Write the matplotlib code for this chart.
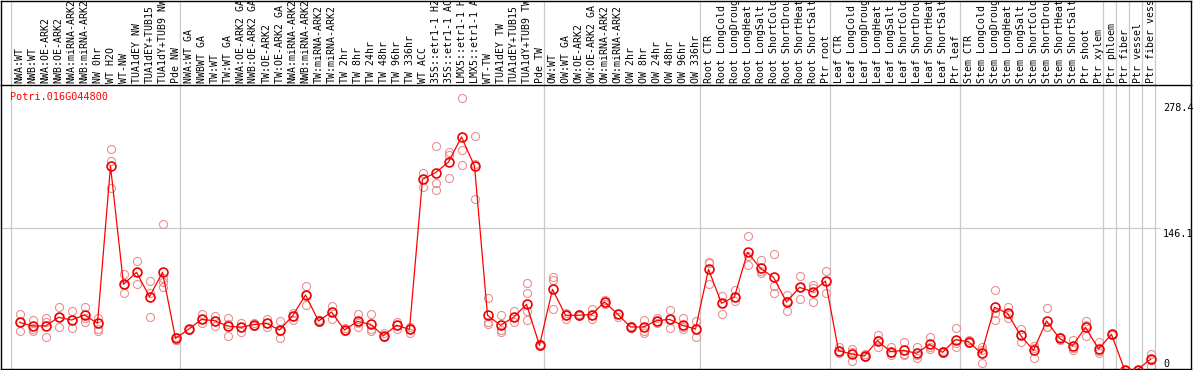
import matplotlib
matplotlib.use("Agg")
import matplotlib.pyplot as plt
import numpy as np

plt.rcParams['font.family'] = ['DejaVu Sans Mono']

gene = "Potri.016G044800"

sample_labels = [
    "NWA:WT", "NWB:WT", "NWA:OE-ARK2", "NWB:OE-ARK2", "NWA:miRNA-ARK2", "NWB:miRNA-ARK2",
    "NW 0hr", "WT H2O", "WT-NW", "TUA1dEY NW", "TUA1dEY+TUB15", "TUA1dY+TUB9 NW", "Pde NW",
    "NWA:WT GA", "NWBWT GA", "TW:WT", "TW:WT GA", "NWA:OE-ARK2 GA", "NWB:OE-ARK2 GA",
    "TW:OE-ARK2", "TW:OE-ARK2 GA", "NWA:miRNA-ARK2", "NWB:miRNA-ARK2", "TW:miRNA-ARK2",
    "TW:miRNA-ARK2", "TW 2hr", "TW 8hr", "TW 24hr", "TW 48hr", "TW 96hr", "TW 336hr",
    "WT ACC", "35S::etr1-1 H2", "35S::etr1-1 AC", "LMX5::etr1-1 H", "LMX5::etr1-1 A",
    "WT-TW", "TUA1dEY TW", "TUA1dEY+TUB15", "TUA1dY+TUB9 TW", "Pde TW",
    "OW:WT", "OW:WT GA", "OW:OE-ARK2", "OW:OE-ARK2 GA", "OW:miRNA-ARK2", "OW:miRNA-ARK2",
    "OW 2hr", "OW 8hr", "OW 24hr", "OW 48hr", "OW 96hr", "OW 336hr",
    "Root CTR", "Root LongCold", "Root LongDroug", "Root LongHeat", "Root LongSalt",
    "Root ShortCold", "Root ShortDrou", "Root ShortHeat", "Root ShortSalt", "Ptr root",
    "Leaf CTR", "Leaf LongCold", "Leaf LongDroug", "Leaf LongHeat", "Leaf LongSalt",
    "Leaf ShortCold", "Leaf ShortDrou", "Leaf ShortHeat", "Leaf ShortSalt", "Ptr leaf",
    "Stem CTR", "Stem LongCold", "Stem LongDroug", "Stem LongHeat", "Stem LongSalt",
    "Stem ShortCold", "Stem ShortDrou", "Stem ShortHeat", "Stem ShortSalt", "Ptr shoot",
    "Ptr xylem", "Ptr phloem", "Ptr fiber", "Ptr vessel", "Ptr fiber vess",
]

group_sizes = [13, 28, 12, 10, 10, 11, 1, 1, 1, 1]

means = [
    50.0, 46.3, 46.3, 55.1, 52.4, 57.5, 49.0, 209.0, 88.7, 100.9, 76.1, 100.9, 33.7,
    42.9, 53.0, 51.7, 46.3, 45.0, 47.7, 49.0, 42.2, 56.5, 77.8, 51.4, 60.5, 42.2, 51.0,
    48.0, 36.4, 47.0, 42.9, 195.5, 202.3, 213.1, 238.6, 209.0, 57.2, 47.0, 55.1, 68.3, 26.6,
    83.6, 57.2, 57.2, 57.9, 70.7, 58.5, 45.3, 45.3, 51.7, 53.0, 47.0, 43.2,
    104.0, 69.4, 76.1, 121.2, 105.0, 95.8, 70.7, 85.6, 81.2, 92.0,
    21.2, 17.8, 15.8, 31.4, 20.2, 21.5, 18.5, 27.6, 19.5, 32.4,
    30.3, 18.5, 65.3, 59.2, 36.8, 21.5, 51.4, 33.7, 26.2, 44.9, 22.9,
    37.8, 2.0, 2.0, 12.4,
]

replicates = [
    [58.5, 50, 41], [52.4, 43, 41], [54, 50, 35], [65.3, 55, 45.6], [61.5, 52, 44],
    [65.3, 54, 50], [54.8, 42.9, 41.6], [226, 214, 186.4], [98.9, 88, 79.5],
    [112.4, 101, 88.7], [92, 80, 55.1], [149.7, 95.4, 91.4, 86.3], [35, 32, 31.6],
    [43.5, 42.9, 42], [58, 53, 49], [56.8, 51.7, 46.6], [54, 48, 36.4], [49.7, 45, 40.5],
    [49, 47.7, 46], [53, 49, 45], [51.7, 41, 33.7], [59.8, 56.5, 52.4], [87, 78, 67.6],
    [52.4, 51.4, 50], [66.6, 60.5, 53], [44, 42.2, 41], [58.5, 49, 45.6], [58.5, 43.2, 40.9],
    [39.5, 36, 34.8], [50.6, 47, 43.6], [45, 43, 39.2], [202.3, 195.5, 188],
    [229.4, 191.4, 184.6], [223.3, 220, 196.5], [278.4, 225.3, 209.8], [239.6, 211.1, 175.5],
    [74.5, 50, 48], [57, 42.2, 39.9], [61.5, 55, 50], [89.7, 79.5, 62, 52.4], [27.5, 26.6, 25.5],
    [96.5, 93, 63.3], [60, 57.2, 53], [59, 57, 56], [63.3, 57.9, 53.7], [72.5, 70.7, 69],
    [58.5, 58, 55], [46, 45.3, 44.5], [52.4, 41, 39], [54, 51.7, 49.5], [62.5, 53, 44.3],
    [54.1, 45, 42.9], [51.4, 43, 34.8],
    [111.7, 110, 89], [77, 70, 59], [82.8, 76, 72], [137.8, 118, 108.3], [113.4, 102, 99.9],
    [119.2, 87.3, 79.5], [77.8, 72, 61.5], [97.2, 86, 73.5], [88, 85, 70.7], [101.9, 92, 80.2],
    [25.2, 21.2, 18.4], [22.9, 20, 11], [17.8, 15.8, 15], [37.1, 32, 24.5], [24.5, 19, 16.7],
    [29.6, 18, 16.7], [24.5, 17, 14], [34.8, 25, 22.9], [20.5, 19.5, 18.5], [43.9, 29, 24.5],
    [32, 30.3, 29], [24.5, 22, 8.3], [82.9, 59.8, 52.4], [65.3, 59, 54.8], [43.2, 37, 29.6],
    [26.2, 24, 13.4], [64.2, 45, 45], [35.6, 33.7, 32], [32.4, 24, 22], [51.7, 47, 36.1],
    [30.3, 21, 18.5], [38.5, 37.8, 37], [2.0, 2.0, 2.0], [2.0, 2.0, 2.0], [17.8, 12, 5.9],
]

y_ticks = [278.4, 146.1, 0]

# ---------------- layout ----------------
W, H = 1194, 370
fig = plt.figure(figsize=(W / 100, H / 100), dpi=100)

px_left, px_right = 1, 1191
header_bottom = 85
plot_bottom = 369
step = 13.0
x0 = 6.5  # pixel = x0 + step * index
xlim = ((px_left - x0) / step, (px_right - x0) / step)

# y mapping: pixel_from_top = 371.5 - 0.983 * v
yscale = 0.983
yzero = 371.5
ylim = ((yzero - plot_bottom) / yscale, (yzero - header_bottom) / yscale)

ax = fig.add_axes([px_left / W, (H - plot_bottom) / H,
                   (px_right - px_left) / W, (plot_bottom - header_bottom) / H])
hax = fig.add_axes([px_left / W, (H - header_bottom) / H,
                    (px_right - px_left) / W, (header_bottom - 0.5) / H])

n = len(means)
xs = np.arange(1, n + 1)

ax.set_xlim(*xlim)
ax.set_ylim(*ylim)
hax.set_xlim(*xlim)
hax.set_ylim(header_bottom, 0)

for a in (ax, hax):
    a.set_xticks([])
    a.set_yticks([])
    for s in a.spines.values():
        s.set_color('black')
        s.set_linewidth(1.0)
ax.spines['top'].set_visible(False)

grid_c = '#c8c8c8'
bounds = np.concatenate([[0], np.cumsum(group_sizes)])
for b in bounds:
    xb = b + 4.5 / step
    ax.axvline(xb, color=grid_c, lw=0.9, zorder=0)
    hax.axvline(xb, color=grid_c, lw=0.9, zorder=0)

x_grid_end = (1160 - x0) / step
ax.hlines(146.1, xlim[0], x_grid_end, color=grid_c, lw=0.9, zorder=0)

# replicate points
for xi, reps in zip(xs, replicates):
    ax.plot([xi] * len(reps), reps, linestyle='none', marker='o', ms=5.8,
            mfc='none', mec='#ea9090', mew=0.8, zorder=2, clip_on=True)

ax.plot(xs, means, color='#ff0000', lw=0.9, zorder=3)
ax.plot(xs, means, linestyle='none', marker='o', ms=6.4, mfc='none',
        mec='#ee0000', mew=1.2, zorder=4)

# header labels
for xi, lab in zip(xs, sample_labels):
    hax.text(xi, header_bottom - 2, lab, rotation=90, ha='center', va='bottom',
             fontsize=7.1, color='black', clip_on=True)

# right tick labels
lab_x = (1163 - x0) / step
offsets = {278.4: -5, 146.1: -1, 0: 12.5}
for v in y_ticks:
    ax.annotate(f"{v:g}", xy=(lab_x, v), xytext=(0, offsets[v]),
                textcoords='offset pixels', ha='left', va='top', fontsize=7.3,
                color='black', annotation_clip=False)

fig.text(10 / W, 1 - 92 / H, gene, color='#ff0000', fontsize=7.3,
         ha='left', va='top')

fig.savefig('out.png', dpi=100)
